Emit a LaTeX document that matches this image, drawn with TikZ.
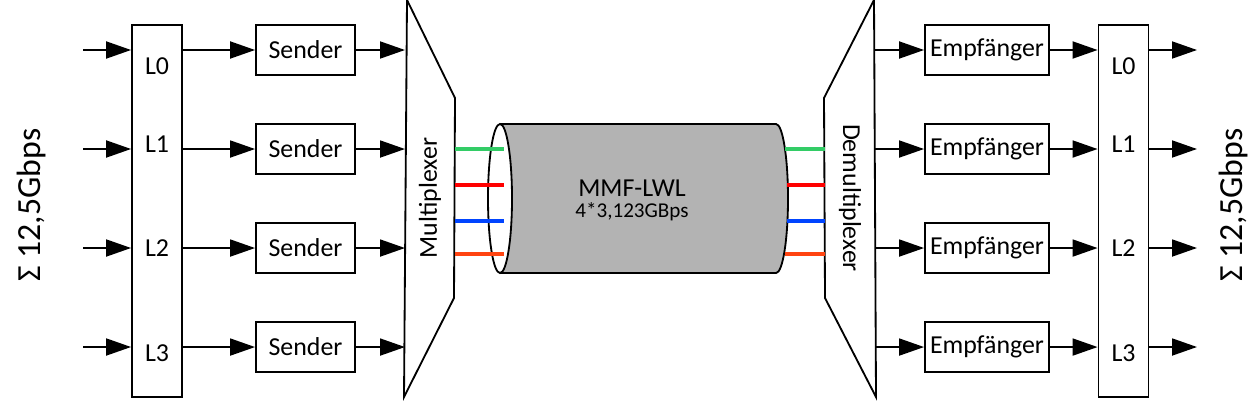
\documentclass[tikz,border=0pt]{standalone}
\usepackage{fontspec}
\setmainfont{Carlito}
\usepackage{tikz}
\usetikzlibrary{positioning, arrows.meta}
\definecolor{fibgreen}{RGB}{51,204,102}
\definecolor{fibred}{RGB}{255,0,0}
\definecolor{fibblue}{RGB}{0,68,255}
\definecolor{fiborange}{RGB}{255,68,17}
\definecolor{cablegray}{RGB}{179,179,179}

\begin{document}
\begin{tikzpicture}[x=0.025cm, y=0.025cm, line width=1.3pt, font=\fontsize{18.4}{22}\selectfont, node distance=1.179cm, sendbox/.style={rectangle, draw=black, minimum width=2.475cm, minimum height=1.25cm, inner sep=0pt}, recvbox/.style={rectangle, draw=black, minimum width=3.1cm, minimum height=1.25cm, inner sep=0pt}, lanebox/.style={rectangle, draw=black, minimum width=1.25cm, minimum height=9.3cm, inner sep=0pt}, flow/.style={-{Triangle[length=0.625cm, width=0.425cm]}}, fiber/.style={line width=3.5pt}]

    \useasboundingbox (0,0) rectangle (1260,-408);

    % Nodes
    \node[lanebox]  (lanein)                  at (157,-211)    {};
    \node[sendbox]  (snd0)                    at (305.5,-50)   {Sender};
    \node[sendbox]  (snd1)   [below=of snd0]                   {Sender};
    \node[sendbox]  (snd2)   [below=of snd1]                   {Sender};
    \node[sendbox]  (snd3)   [below=of snd2]                   {Sender};
    \node[recvbox]  (rcv0)                    at (987,-50)     {Empfänger};
    \node[recvbox]  (rcv1)   [below=of rcv0]                   {Empfänger};
    \node[recvbox]  (rcv2)   [below=of rcv1]                   {Empfänger};
    \node[recvbox]  (rcv3)   [below=of rcv2]                   {Empfänger};
    \node[lanebox]  (laneout)                 at (1123.5,-211) {};

    % Lane labels
    \node (li0) at (157,-66)  {L0};
    \node (li1) at (157,-144) {L1};
    \node (li2) at (157,-248) {L2};
    \node (li3) at (157,-353) {L3};
    \node (lo0) at (1123.5,-66)  {L0};
    \node (lo1) at (1123.5,-144) {L1};
    \node (lo2) at (1123.5,-248) {L2};
    \node (lo3) at (1123.5,-353) {L3};

    % Sum labels
    \node[rotate=90, font=\fontsize{24}{28}\selectfont] (sumin)  at (32,-205)   {Σ 12,5Gbps};
    \node[rotate=90, font=\fontsize{24}{28}\selectfont] (sumout) at (1233,-205) {Σ 12,5Gbps};

    % Multiplexer / Demultiplexer
    \coordinate (muxl) at (405,0);
    \coordinate (muxr) at (455,0);
    \coordinate (dmxl) at (825,0);
    \coordinate (dmxr) at (875,0);
    \draw (407,0) -- (455,-98) -- (454,-298) -- (404,-397) -- cycle;
    \draw (874,0) -- (824,-98) -- (825,-298) -- (876,-397) -- cycle;
    \node[rotate=90]  (mux) at (430,-198) {Multiplexer};
    \node[rotate=-90] (dmx) at (850,-198) {Demultiplexer};

    % Cable
    \fill[cablegray] (500,-124) -- (776,-124) arc[start angle=90, end angle=-90, x radius=0.3cm, y radius=1.8625cm]
        -- (500,-273) arc[start angle=-90, end angle=90, x radius=0.3cm, y radius=1.8625cm] -- cycle;
    \draw (500,-124) -- (776,-124) arc[start angle=90, end angle=-90, x radius=0.3cm, y radius=1.8625cm] -- (500,-273);
    \draw[fill=white] (500,-198.5) ellipse [x radius=0.3cm, y radius=1.8625cm];
    \node (cable)    at (632,-188) {MMF-LWL};
    \node[font=\fontsize{15}{18}\selectfont] (rate) at (632,-212) {4*3,123GBps};

    % Inputs ---------------
    \foreach \y [count=\i from 0] in {50,149,248,347} {
        \coordinate (in\i)  at (83,-\y);
        \coordinate (out\i) at (1197,-\y);
    }
    \draw[flow] (in0) -- (lanein.west |- in0);
    \draw[flow] (in1) -- (lanein.west |- in1);
    \draw[flow] (in2) -- (lanein.west |- in2);
    \draw[flow] (in3) -- (lanein.west |- in3);

    % Sender side
    \foreach \i in {0,...,3} {
        \draw[flow] (lanein.east |- snd\i) -- (snd\i.west);
        \draw[flow] (snd\i.east) -- (snd\i -| muxl);
    }

    % Fibers
    \draw[fiber, fibgreen]  (muxr |- 0,-149) -- (504,-149);
    \draw[fiber, fibred]    (muxr |- 0,-185) -- (504,-185);
    \draw[fiber, fibblue]   (muxr |- 0,-221) -- (504,-221);
    \draw[fiber, fiborange] (muxr |- 0,-254) -- (504,-254);
    \draw[fiber, fibgreen]  (785,-149) -- (dmxl |- 0,-149);
    \draw[fiber, fibred]    (787,-185) -- (dmxl |- 0,-185);
    \draw[fiber, fibblue]   (787,-221) -- (dmxl |- 0,-221);
    \draw[fiber, fiborange] (785,-254) -- (dmxl |- 0,-254);

    % Receiver side
    \foreach \i in {0,...,3} {
        \draw[flow] (rcv\i -| dmxr) -- (rcv\i.west);
        \draw[flow] (rcv\i.east) -- (laneout.west |- rcv\i);
        \draw[flow] (laneout.east |- out\i) -- (out\i);
    }

\end{tikzpicture}
\end{document}
